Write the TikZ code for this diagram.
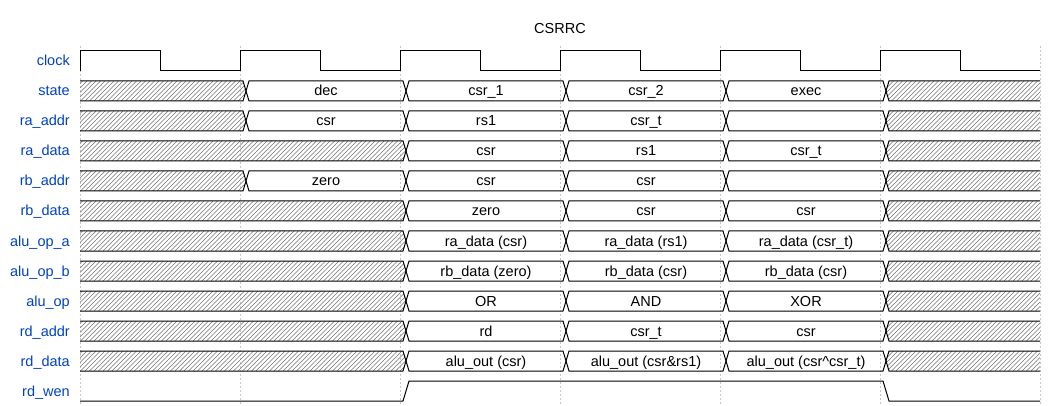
\documentclass[tikz,border=0pt]{standalone}
\usepackage{fontspec}
\setmainfont{Liberation Sans}
\definecolor{wblue}{HTML}{0041C4}
\newcommand\tdseg[5]{%
  \pgfmathsetmacro\tdtop{51+30*#2}\pgfmathsetmacro\tdbot{71+30*#2}\pgfmathsetmacro\tdmid{61+30*#2}%
  \draw[wave] ({#3+6},\tdmid) -- ({#3+9},\tdtop) -- ({#4+3},\tdtop) -- ({#4+6},\tdmid) -- ({#4+3},\tdbot) -- ({#3+9},\tdbot) -- cycle;
  \node[val] (#1) at ({(#3+#4)/2+6},{\tdmid+5}) {#5};
}
\newcommand\tdhatl[2]{%
  \pgfmathsetmacro\tdtop{51+30*#1}\pgfmathsetmacro\tdbot{71+30*#1}\pgfmathsetmacro\tdmid{61+30*#1}%
  \pgfmathsetmacro\tdend{#2+12}%
  \begin{scope}
    \clip (80,\tdtop) -- ({#2+3},\tdtop) -- ({#2+6},\tdmid) -- ({#2+3},\tdbot) -- (80,\tdbot) -- cycle;
    \foreach \x in {58,62.5,...,\tdend} \draw[hat] (\x,\tdbot) -- ++(20,-20);
  \end{scope}
  \draw[wave] (80,\tdtop) -- ({#2+3},\tdtop) -- ({#2+6},\tdmid) -- ({#2+3},\tdbot) -- (80,\tdbot);
}
\newcommand\tdhatr[2]{%
  \pgfmathsetmacro\tdtop{51+30*#1}\pgfmathsetmacro\tdbot{71+30*#1}\pgfmathsetmacro\tdmid{61+30*#1}%
  \pgfmathsetmacro\tdstart{#2-20}\pgfmathsetmacro\tdsec{#2-15.5}%
  \begin{scope}
    \clip ({#2+6},\tdmid) -- ({#2+9},\tdtop) -- (1040,\tdtop) -- (1040,\tdbot) -- ({#2+9},\tdbot) -- cycle;
    \foreach \x in {\tdstart,\tdsec,...,1045} \draw[hat] (\x,\tdbot) -- ++(20,-20);
  \end{scope}
  \draw[wave] (1040,\tdtop) -- ({#2+9},\tdtop) -- ({#2+6},\tdmid) -- ({#2+9},\tdbot) -- (1040,\tdbot);
}
\begin{document}
\begin{tikzpicture}[x=1pt,y=-1pt,
  wave/.style={draw=black, line width=1pt},
  hat/.style={draw=black!55, line width=0.5pt},
  gridline/.style={draw=black!22, line width=0.6pt, dash pattern=on 2pt off 2pt},
  lab/.style={anchor=base east, text=wblue, font=\fontsize{14.5}{16}\selectfont, inner sep=0pt},
  val/.style={anchor=base, text=black, font=\fontsize{14.5}{16}\selectfont, inner sep=0pt}]
\useasboundingbox (0,0) rectangle (1060,406);
% grid
\foreach \x in {80,240,...,1040} \draw[gridline] (\x,46) -- (\x,406);
% title
\node[val] (title) at (560,34) {CSRRC};
% labels
\node[lab] (l0) at (70,66) {clock};
\node[lab] (l1) at (70,96) {state};
\node[lab] (l2) at (70,126) {ra\_addr};
\node[lab] (l3) at (70,156) {ra\_data};
\node[lab] (l4) at (70,186) {rb\_addr};
\node[lab] (l5) at (70,216) {rb\_data};
\node[lab] (l6) at (70,246) {alu\_op\_a};
\node[lab] (l7) at (70,276) {alu\_op\_b};
\node[lab] (l8) at (70,306) {alu\_op};
\node[lab] (l9) at (70,336) {rd\_addr};
\node[lab] (l10) at (70,366) {rd\_data};
\node[lab] (l11) at (70,396) {rd\_wen};
% clock
\draw[wave] (80,71) \foreach \c in {0,...,5} { -- ({80+160*\c},51) -- ({160+160*\c},51) -- ({160+160*\c},71) -- ({240+160*\c},71) };
% state
\tdhatl{1}{240}
\tdseg{s1a}{1}{240}{400}{dec}
\tdseg{s1b}{1}{400}{560}{csr\_1}
\tdseg{s1c}{1}{560}{720}{csr\_2}
\tdseg{s1d}{1}{720}{880}{exec}
\tdhatr{1}{880}
% ra_addr
\tdhatl{2}{240}
\tdseg{s2a}{2}{240}{400}{csr}
\tdseg{s2b}{2}{400}{560}{rs1}
\tdseg{s2c}{2}{560}{720}{csr\_t}
\tdseg{s2d}{2}{720}{880}{}
\tdhatr{2}{880}
% ra_data
\tdhatl{3}{400}
\tdseg{s3b}{3}{400}{560}{csr}
\tdseg{s3c}{3}{560}{720}{rs1}
\tdseg{s3d}{3}{720}{880}{csr\_t}
\tdhatr{3}{880}
% rb_addr
\tdhatl{4}{240}
\tdseg{s4a}{4}{240}{400}{zero}
\tdseg{s4b}{4}{400}{560}{csr}
\tdseg{s4c}{4}{560}{720}{csr}
\tdseg{s4d}{4}{720}{880}{}
\tdhatr{4}{880}
% rb_data
\tdhatl{5}{400}
\tdseg{s5b}{5}{400}{560}{zero}
\tdseg{s5c}{5}{560}{720}{csr}
\tdseg{s5d}{5}{720}{880}{csr}
\tdhatr{5}{880}
% alu_op_a
\tdhatl{6}{400}
\tdseg{s6b}{6}{400}{560}{ra\_data (csr)}
\tdseg{s6c}{6}{560}{720}{ra\_data (rs1)}
\tdseg{s6d}{6}{720}{880}{ra\_data (csr\_t)}
\tdhatr{6}{880}
% alu_op_b
\tdhatl{7}{400}
\tdseg{s7b}{7}{400}{560}{rb\_data (zero)}
\tdseg{s7c}{7}{560}{720}{rb\_data (csr)}
\tdseg{s7d}{7}{720}{880}{rb\_data (csr)}
\tdhatr{7}{880}
% alu_op
\tdhatl{8}{400}
\tdseg{s8b}{8}{400}{560}{OR}
\tdseg{s8c}{8}{560}{720}{AND}
\tdseg{s8d}{8}{720}{880}{XOR}
\tdhatr{8}{880}
% rd_addr
\tdhatl{9}{400}
\tdseg{s9b}{9}{400}{560}{rd}
\tdseg{s9c}{9}{560}{720}{csr\_t}
\tdseg{s9d}{9}{720}{880}{csr}
\tdhatr{9}{880}
% rd_data
\tdhatl{10}{400}
\tdseg{s10b}{10}{400}{560}{alu\_out (csr)}
\tdseg{s10c}{10}{560}{720}{alu\_out (csr\&rs1)}
\tdseg{s10d}{10}{720}{880}{alu\_out (csr\textasciicircum csr\_t)}
\tdhatr{10}{880}
% rd_wen
\draw[wave] (80,401) -- (403,401) -- (409,381) -- (883,381) -- (889,401) -- (1040,401);
\end{tikzpicture}
\end{document}
